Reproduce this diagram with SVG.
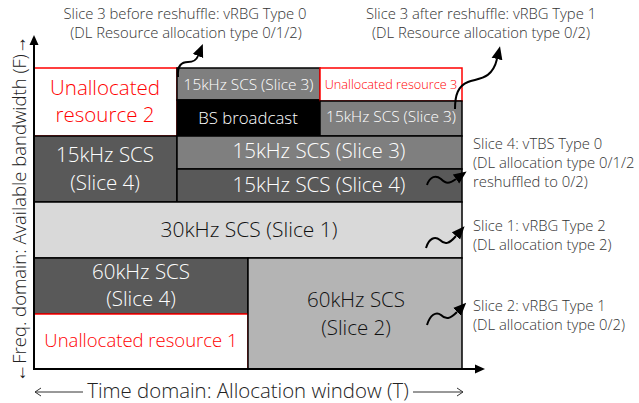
<svg xmlns="http://www.w3.org/2000/svg" width="639" height="403" viewBox="0 0 639 403">
<defs>
<style>
text{font-family:"Open Sans","Noto Sans",sans-serif;font-weight:300;}
.blk{stroke:#000;stroke-width:1.5;}
.red{fill:#fff;stroke:#ff0000;stroke-width:1.5;}
.s3{fill:#7f7f7f;}
.s4{fill:#595959;}
.s1{fill:#d9d9d9;}
.s2{fill:#b4b4b4;}
.w{fill:#fff;text-anchor:middle;}
.k{fill:#111;text-anchor:middle;}
.r{fill:#ff0000;text-anchor:middle;}
.ann{fill:#333;font-size:14.8px;}
.annc{fill:#333;font-size:14.8px;text-anchor:middle;}
.sq{fill:none;stroke:#000;stroke-width:2;marker-end:url(#ah);}
</style>
<marker id="ah" viewBox="0 -6 13 12" refX="0" refY="0" markerWidth="13" markerHeight="12" markerUnits="userSpaceOnUse" orient="auto">
<path d="M0,-5.5 L13,0 L0,5.5 z" fill="#000"/>
</marker>
</defs>

<g id="unalloc2"><rect x="34" y="68" width="143" height="68" class="red"/>
<text x="105" y="95" class="r" font-size="20.5">Unallocated</text>
<text x="105" y="122" class="r" font-size="20.5">resource 2</text></g>

<g id="slice3-top"><rect x="177" y="68" width="143" height="32" class="s3 blk"/>
<text x="248.5" y="90" class="w" font-size="15.4">15kHz SCS (Slice 3)</text></g>

<g id="bs"><rect x="177" y="100" width="143" height="36" fill="#000" class="blk"/>
<text x="248" y="124" class="w" font-size="16.8">BS broadcast</text></g>

<g id="unalloc3"><rect x="320" y="68" width="142" height="33" class="red"/>
<text x="391" y="89" class="r" font-size="12.7">Unallocated resource 3</text></g>

<g id="slice3-right"><rect x="320" y="101" width="142" height="35" class="s3 blk"/>
<text x="391" y="122" class="w" font-size="15.4">15kHz SCS (Slice 3)</text></g>

<g id="slice4-left"><rect x="34" y="136" width="143" height="66" class="s4 blk"/>
<text x="105" y="162" class="w" font-size="20.5">15kHz SCS</text>
<text x="105" y="190" class="w" font-size="20.5">(Slice 4)</text></g>

<g id="slice3-wide"><rect x="177" y="136" width="285" height="33" class="s3 blk"/>
<text x="319" y="158" class="w" font-size="20.5">15kHz SCS (Slice 3)</text></g>

<g id="slice4-wide"><rect x="177" y="169" width="285" height="33" class="s4 blk"/>
<text x="319" y="192" class="w" font-size="20.5">15kHz SCS (Slice 4)</text></g>

<g id="slice1"><rect x="34" y="202" width="428" height="56" class="s1 blk"/>
<text x="249" y="237" class="k" font-size="21">30kHz SCS (Slice 1)</text></g>

<g id="slice4-60"><rect x="34" y="258" width="214" height="56" class="s4 blk"/>
<text x="141" y="279" class="w" font-size="20.5">60kHz SCS</text>
<text x="141" y="306" class="w" font-size="20.5">(Slice 4)</text></g>

<g id="unalloc1"><rect x="34" y="314" width="214" height="55" class="red"/>
<text x="141" y="347" class="r" font-size="18.5">Unallocated resource 1</text></g>

<g id="slice2"><rect x="248" y="258" width="214" height="111" class="s2 blk"/>
<text x="356" y="307" class="k" font-size="20.5">60kHz SCS</text>
<text x="356" y="335" class="k" font-size="20.5">(Slice 2)</text></g>

<g id="axes">
<line x1="34" y1="370" x2="34" y2="43" stroke="#000" stroke-width="2"/>
<path d="M34,35 L29.5,45 L38.5,45 z" fill="#000"/>
<line x1="33" y1="369" x2="476" y2="369" stroke="#000" stroke-width="2"/>
<path d="M485,369 L475,364.5 L475,373.5 z" fill="#000"/>
</g>

<g id="labels">
<text transform="translate(26,209) rotate(-90)" text-anchor="middle" font-size="18.5" fill="#222">←Freq. domain: Available bandwidth (F)→</text>
<text x="248" y="398" text-anchor="middle" font-size="20.4" fill="#222">Time domain: Allocation window (T)</text>
<path d="M83,392 H35 M41,388 L35,392 L41,396 M413,392 H463 M457,388 L463,392 L457,396" fill="none" stroke="#333" stroke-width="1"/>
</g>

<g id="annotations">
<text x="185" y="19" class="annc">Slice 3 before reshuffle: vRBG Type 0</text>
<text x="186" y="38" class="annc">(DL Resource allocation type 0/1/2)</text>
<text x="481" y="19" class="annc">Slice 3 after reshuffle: vRBG Type 1</text>
<text x="481" y="38" class="annc">(DL Resource allocation type 0/2)</text>
<text x="473" y="149" class="ann">Slice 4: vTBS Type 0</text>
<text x="473" y="168" class="ann">(DL allocation type 0/1/2</text>
<text x="473" y="187" class="ann">reshuffled to 0/2)</text>
<text x="473" y="231" class="ann">Slice 1: vRBG Type 2</text>
<text x="473" y="250" class="ann">(DL allocation type 2)</text>
<text x="473" y="311" class="ann">Slice 2: vRBG Type 1</text>
<text x="473" y="330" class="ann">(DL allocation type 0/2)</text>
</g>

<g id="connectors">
<path class="sq" d="M178,77 C177,65 182,62 188,62 C193,62 196,61 198,56"/>
<path class="sq" d="M455,109 C455,95 458,86 468,82 C478,78 492,80 497,59"/>
<path class="sq" d="M427,185 C430,176 436,175 441,179 C446,184 449,184 456,179"/>
<path class="sq" d="M426,248 C429,238 435,236 440,240 C445,245 449,244 456,236"/>
<path class="sq" d="M427,325 C430,315 436,311 441,315 C446,320 450,319 457,312"/>
</g>
</svg>
